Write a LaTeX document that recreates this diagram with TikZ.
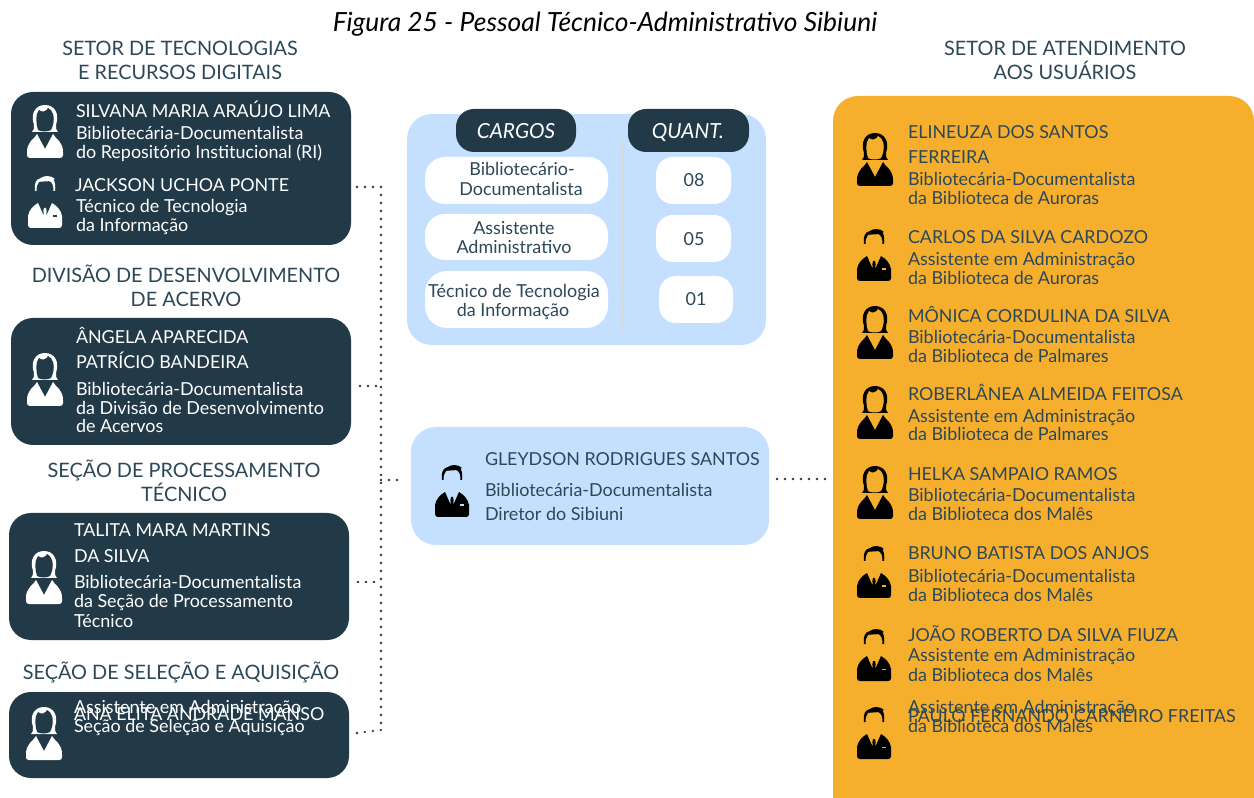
\documentclass[tikz,border=0pt]{standalone}
\usepackage{fontspec}
\setmainfont{Lato}
\definecolor{dk}{HTML}{223A47}
\definecolor{lb}{HTML}{C5E0FF}
\definecolor{og}{HTML}{F6AE2D}
\definecolor{tx}{HTML}{2C4858}
\tikzset{
 base/.style={inner sep=0pt,outer sep=0pt},
 txt/.style={base,yshift=-0.75pt},
 ttl/.style={txt,anchor=base,text=tx,font=\fontsize{14.9pt}{14.9pt}\selectfont},
 nm/.style={txt,anchor=base west,text=tx,font=\fontsize{13.4pt}{13.4pt}\selectfont},
 sb/.style={txt,anchor=base west,text=tx,font=\fontsize{13.45pt}{13.45pt}\selectfont},
 wn/.style={nm,text=white},
 ws/.style={sb,text=white},
 ct/.style={txt,anchor=base,text=tx,font=\fontsize{13.45pt}{13.45pt}\selectfont},
 hd/.style={txt,anchor=base,text=white,font=\fontsize{15.6pt}{15.6pt}\itshape\selectfont},
 box/.style={base,draw=none,fill=#1,rounded corners=15pt,anchor=north west},
 dots/.style={draw=dk,line width=1.9pt,line cap=round,dash pattern=on 0pt off 6pt},
}
\newcommand{\bx}[6]{\node[box=#6,minimum width=#3*0.75pt,minimum height=#4*0.75pt,rounded corners=#5*0.75pt] (#1) at #2 {};}
\newcommand{\womanicon}[4]{\begin{scope}[shift={(#1,#2)}]
 \fill[#3] (-13,27) .. controls (-11,25) and (-10.5,23) .. (-11,20) .. controls (-15,8) and (-9,0) .. (0,0) .. controls (9,0) and (15,8) .. (11,20) .. controls (10.5,23) and (11,25) .. (13,27) -- cycle;
 \fill[#4] (-7,25) .. controls (-9,18) and (-10,10) .. (-6,5) .. controls (-3,8) and (2,6) .. (3,3) .. controls (8,5) and (10,12) .. (8,20) .. controls (7,22) and (7,24) .. (6,25) .. controls (3,27) and (-4,27) .. (-7,25) -- cycle;
 \fill[#3] (-8,29) .. controls (-9,32) and (-12,33) .. (-14,36) .. controls (-17,40) and (-18,43) .. (-18,47) -- (-18,50) .. controls (-18,52) and (-17,53) .. (-15,53) -- (15,53) .. controls (17,53) and (18,52) .. (18,50) -- (18,47) .. controls (18,43) and (17,40) .. (14,36) .. controls (12,33) and (9,32) .. (8,29) -- (0,44) -- cycle;
\end{scope}}
\newcommand{\manicon}[4]{\begin{scope}[shift={(#1,#2)}]
 \fill[#3] (-10,16) .. controls (-11,8) and (-9,4) .. (-4,3) .. controls (-1,0.5) and (6,0) .. (10,4) -- (8.5,4.5) .. controls (10.5,8) and (10.5,12) .. (10,16) -- (8.5,16) .. controls (8.5,11) and (7.5,7) .. (4,6) .. controls (1,7) and (-4,6) .. (-6,7) .. controls (-8,9) and (-8.5,12) .. (-8.5,16) -- cycle;
 \fill[#3] (-17,49) -- (-17,41) .. controls (-16,35) and (-12,31) .. (-7,28) -- (-1.2,41) -- (-1.6,36) -- (-1,33) -- (1,33) -- (1.6,36) -- (1.2,41) -- (7,28) .. controls (12,31) and (16,35) .. (17,41) -- (17,50) .. controls (17,52) and (16,53) .. (14,53) -- (-14,53) .. controls (-16,53) and (-17,52) .. (-17,50) -- cycle;
 \fill[#4] (7.5,40.5) rectangle (11.5,42);
\end{scope}}
\begin{document}
\begin{tikzpicture}[x=0.75pt,y=-0.75pt]
\useasboundingbox (0,0) rectangle (1254,798);
\fill[white] (0,0) rectangle (1254,798);
% boxes
\bx{b1}{(11,92)}{340}{153}{22}{dk}
\bx{b2}{(11,318)}{340}{127}{22}{dk}
\bx{b3}{(9,513)}{340}{127}{22}{dk}
\bx{b4}{(9,692)}{340}{86}{22}{dk}
\bx{tb}{(407,114)}{359}{231}{25}{lb}
\bx{dir}{(411,427)}{358}{118}{25}{lb}
\bx{og}{(833,96)}{421}{730}{25}{og}
\bx{c1}{(456,109)}{120}{43}{18}{dk}
\bx{c2}{(628,109)}{121}{43}{18}{dk}
\bx{w1}{(425,157)}{183}{47}{20}{white}
\bx{w2}{(425,214)}{183}{46}{20}{white}
\bx{w3}{(425,271)}{183}{57}{22}{white}
\bx{n1}{(656,157)}{75}{47}{17}{white}
\bx{n2}{(656,215)}{75}{47}{17}{white}
\bx{n3}{(659,276)}{74}{47}{17}{white}
\draw[line width=1.5pt,color=black!15] (623,139) -- (623,331);
% connectors
\coordinate (s0) at (381,187);
\coordinate (s1) at (381,730);
\coordinate (a1) at (357,187);
\coordinate (a2) at (360,386);
\coordinate (a3) at (358,582);
\coordinate (a4) at (357,733);
\coordinate (j2) at (381,386);
\coordinate (j3) at (381,582);
\coordinate (j5) at (381,480);
\coordinate (d1) at (400,480);
\coordinate (d2) at (777,479);
\coordinate (d3) at (830,479);
\draw[dots] (s0) -- (s1);
\draw[dots] (a1) -- (s0);
\draw[dots] (a2) -- (j2);
\draw[dots] (a3) -- (j3);
\draw[dots] (a4) -- (s1);
\draw[dots] (j5) -- (d1);
\draw[dots] (d2) -- (d3);
% titles
\node[txt,anchor=base,text=black,font=\fontsize{19.8pt}{19.8pt}\itshape\selectfont] (fig) at (605,31) {Figura 25 - Pessoal Técnico-Administrativo Sibiuni};
\node[ttl] (t1a) at (180,55) {SETOR DE TECNOLOGIAS};
\node[ttl] (t1b) at (180,79) {E RECURSOS DIGITAIS};
\node[ttl] (t2a) at (186,282) {DIVISÃO DE DESENVOLVIMENTO};
\node[ttl] (t2b) at (186,306) {DE ACERVO};
\node[ttl] (t3a) at (184,477) {SEÇÃO DE PROCESSAMENTO};
\node[ttl] (t3b) at (184,501) {TÉCNICO};
\node[ttl] (t4) at (181,678) {SEÇÃO DE SELEÇÃO E AQUISIÇÃO};
\node[ttl] (t5a) at (1065,55) {SETOR DE ATENDIMENTO};
\node[ttl] (t5b) at (1065,79) {AOS USUÁRIOS};
% left
\womanicon{45}{105}{white}{dk}
\manicon{45}{175}{white}{dk}
\womanicon{45}{353}{white}{dk}
\womanicon{44}{551}{white}{dk}
\womanicon{44}{707}{white}{dk}
\node[wn] (l1) at (76,117) {SILVANA MARIA ARAÚJO LIMA};
\node[ws] (l2) at (76,139) {Bibliotecária-Documentalista};
\node[ws] (l3) at (76,158) {do Repositório Institucional (RI)};
\node[wn] (l4) at (75,191) {JACKSON UCHOA PONTE};
\node[ws] (l5) at (76,212) {Técnico de Tecnologia};
\node[ws] (l6) at (76,231) {da Informação};
\node[wn] (l7) at (76,343) {ÂNGELA APARECIDA};
\node[wn] (l8) at (76,368) {PATRÍCIO BANDEIRA};
\node[ws] (l9) at (76,395) {Bibliotecária-Documentalista};
\node[ws] (l10) at (76,414) {da Divisão de Desenvolvimento};
\node[ws] (l11) at (76,432) {de Acervos};
\node[wn] (l12) at (74,536) {TALITA MARA MARTINS};
\node[wn] (l13) at (74,562) {DA SILVA};
\node[ws] (l14) at (74,588) {Bibliotecária-Documentalista};
\node[ws] (l15) at (74,607) {da Seção de Processamento};
\node[ws] (l16) at (74,626) {Técnico};
\node[wn] (l17) at (74,719) {ANA ELITA ANDRADE MANSO};
\node[ws] (l18) at (74,712) {Assistente em Administração};
\node[ws] (l19) at (74,731) {Seção de Seleção e Aquisição};
% table
\node[hd] (h1) at (516,138) {CARGOS};
\node[hd] (h2) at (688,138) {QUANT.};
\node[ct] (m1) at (522,175) {Bibliotecário-};
\node[ct] (m2) at (521,195) {Documentalista};
\node[ct] (m3) at (514,234) {Assistente};
\node[ct] (m4) at (514,253) {Administrativo};
\node[ct] (m5) at (514,297) {Técnico de Tecnologia};
\node[ct] (m6) at (513,316) {da Informação};
\node[ct] (q1) at (694,186) {08};
\node[ct] (q2) at (694,245) {05};
\node[ct] (q3) at (696,305) {01};
% director
\manicon{452}{464}{black}{lb}
\node[nm] (g1) at (485,465) {GLEYDSON RODRIGUES SANTOS};
\node[sb] (g2) at (485,496) {Bibliotecária-Documentalista};
\node[sb] (g3) at (485,520) {Diretor do Sibiuni};
% right
\womanicon{875}{133}{black}{og}
\manicon{874}{228}{black}{og}
\womanicon{875}{306}{black}{og}
\womanicon{875}{386}{black}{og}
\womanicon{875}{466}{black}{og}
\manicon{874}{545}{black}{og}
\manicon{874}{628}{black}{og}
\manicon{874}{706}{black}{og}
\node[nm] (r1) at (908,138) {ELINEUZA DOS SANTOS};
\node[nm] (r2) at (908,163) {FERREIRA};
\node[sb] (r3) at (908,185) {Bibliotecária-Documentalista};
\node[sb] (r4) at (908,204) {da Biblioteca de Auroras};
\node[nm] (r5) at (908,243) {CARLOS DA SILVA CARDOZO};
\node[sb] (r6) at (908,265) {Assistente em Administração};
\node[sb] (r7) at (908,284) {da Biblioteca de Auroras};
\node[nm] (r8) at (908,322) {MÔNICA CORDULINA DA SILVA};
\node[sb] (r9) at (908,343) {Bibliotecária-Documentalista};
\node[sb] (r10) at (908,362) {da Biblioteca de Palmares};
\node[nm] (r11) at (908,400) {ROBERLÂNEA ALMEIDA FEITOSA};
\node[sb] (r12) at (908,422) {Assistente em Administração};
\node[sb] (r13) at (908,440) {da Biblioteca de Palmares};
\node[nm] (r14) at (908,480) {HELKA SAMPAIO RAMOS};
\node[sb] (r15) at (908,501) {Bibliotecária-Documentalista};
\node[sb] (r16) at (908,520) {da Biblioteca dos Malês};
\node[nm] (r17) at (908,559) {BRUNO BATISTA DOS ANJOS};
\node[sb] (r18) at (908,581) {Bibliotecária-Documentalista};
\node[sb] (r19) at (908,600) {da Biblioteca dos Malês};
\node[nm] (r20) at (908,640) {JOÃO ROBERTO DA SILVA FIUZA};
\node[sb] (r21) at (908,661) {Assistente em Administração};
\node[sb] (r22) at (908,680) {da Biblioteca dos Malês};
\node[nm] (r23) at (908,721) {PAULO FERNANDO CARNEIRO FREITAS};
\node[sb] (r24) at (908,712) {Assistente em Administração};
\node[sb] (r25) at (908,731) {da Biblioteca dos Malês};
\end{tikzpicture}
\end{document}
